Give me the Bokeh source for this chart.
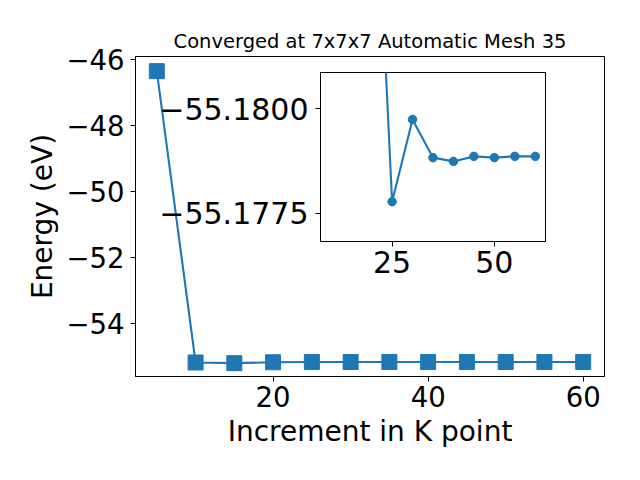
from bokeh.plotting import figure
from bokeh.models import Range1d, FixedTicker, CustomJSTickFormatter
from bokeh.embed import file_html
from bokeh.resources import INLINE

# ---- data ----
k_points = [5, 10, 15, 20, 25, 30, 35, 40, 45, 50, 55, 60]
energies = [-46.35, -55.195, -55.215, -55.188, -55.17778, -55.17974,
            -55.17883, -55.17874, -55.17886, -55.17883, -55.17886, -55.17886]
inset_k = k_points[1:]
inset_e = energies[1:]
main_xticks = [20, 40, 60]
main_yticks = [-54, -52, -50, -48, -46]
inset_xticks = [25, 50]
inset_yticks = [-55.18, -55.1775]

title_text = "Converged at 7x7x7 Automatic Mesh 35"
xlabel = "Increment in K point"
ylabel = "Energy (eV)"

BLUE = "#1f77b4"
FONT = "DejaVu Sans"

fmt0 = CustomJSTickFormatter(code="return (tick < 0 ? '\\u2212' : '') + Math.abs(tick).toFixed(0);")
fmt4 = CustomJSTickFormatter(code="return (tick < 0 ? '\\u2212' : '') + Math.abs(tick).toFixed(4);")


def style_axes(fig, tick_size):
    for ax in (fig.xaxis[0], fig.yaxis[0]):
        ax.major_label_text_font = FONT
        ax.major_label_text_font_size = tick_size
        ax.major_label_text_color = "black"
        ax.axis_label_text_font = FONT
        ax.axis_label_text_font_size = "28px"
        ax.axis_label_text_font_style = "normal"
        ax.axis_label_text_color = "black"
        ax.axis_line_color = "black"
        ax.axis_line_width = 1
        ax.major_tick_line_color = "black"
        ax.major_tick_line_width = 1
        ax.major_tick_out = 5
        ax.major_tick_in = 0
        ax.minor_tick_line_color = None
        ax.major_label_standoff = 4
    fig.xgrid.grid_line_color = None
    fig.ygrid.grid_line_color = None
    fig.outline_line_color = "black"
    fig.outline_line_width = 1


# ---- main figure ----
p = figure(width=632, height=472, output_backend="svg", toolbar_location=None,
           x_range=Range1d(2.25, 62.75), y_range=Range1d(-55.62, -45.906),
           min_border_left=135, min_border_right=28, min_border_top=56,
           min_border_bottom=96)
p.title.text = title_text
p.title.text_font = FONT
p.title.text_font_size = "19.5px"
p.title.text_font_style = "normal"
p.title.text_color = "black"
p.title.align = "center"
p.title.standoff = 8
style_axes(p, "27.5px")
p.xaxis.ticker = FixedTicker(ticks=main_xticks)
p.yaxis.ticker = FixedTicker(ticks=main_yticks)
p.yaxis.formatter = fmt0
p.xaxis.formatter = fmt0
p.yaxis.major_label_standoff = 6
p.xaxis.axis_label = xlabel
p.yaxis.axis_label = ylabel
p.xaxis.axis_label_standoff = 5
p.yaxis.axis_label_standoff = 4

p.line(k_points, energies, line_color=BLUE, line_width=2.1)
p.scatter(k_points, energies, marker="square", size=15, fill_color=BLUE, line_color=BLUE)

# ---- inset figure ----
ins = figure(width=400, height=227, output_backend="svg", toolbar_location=None,
             x_range=Range1d(7.5, 62.5), y_range=Range1d(-55.17683, -55.18086),
             min_border_left=170, min_border_right=5, min_border_top=8,
             min_border_bottom=50,
             styles={"position": "absolute", "left": "150px", "top": "64px"})
style_axes(ins, "30px")
ins.border_fill_alpha = 0
ins.border_fill_color = None
ins.background_fill_color = "white"
ins.xaxis.ticker = FixedTicker(ticks=inset_xticks)
ins.yaxis.ticker = FixedTicker(ticks=inset_yticks)
ins.yaxis.formatter = fmt4
ins.xaxis.formatter = fmt0
ins.yaxis.major_label_standoff = 7
ins.xaxis.major_label_standoff = 4
ins.line(inset_k, inset_e, line_color=BLUE, line_width=2.1)
ins.scatter(inset_k, inset_e, marker="circle", size=8.5, fill_color=BLUE, line_color=BLUE)

with open("out.html", "w", encoding="utf-8") as f:
    f.write(file_html([p, ins], INLINE))
